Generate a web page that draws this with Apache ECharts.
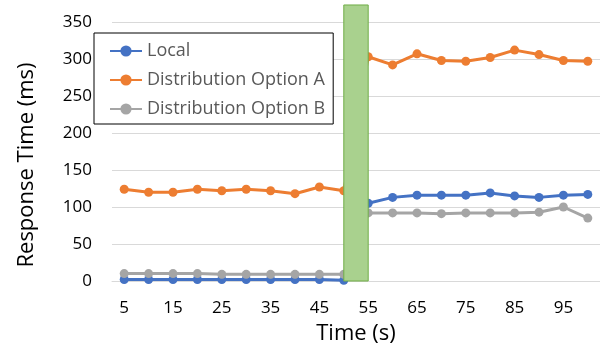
<!DOCTYPE html>
<html>
<head>
<meta charset="utf-8">
<script src="https://cdn.jsdelivr.net/npm/echarts@6/dist/echarts.min.js"></script>
<style>html,body{margin:0;padding:0;background:#fff}#c{width:600px;height:350px}</style>
</head>
<body>
<div id="c"></div>
<script>
const categories = ['5','10','15','20','25','30','35','40','45','50','55','60','65','70','75','80','85','90','95','100'];
const localValues = [2,2,2,2,2,2,2,2,2,1,105,113,116,116,116,119,115,113,116,117];
const optionAValues = [124,120,120,124,122,124,122,118,127,122,303,292,307,298,297,302,312,306,298,297];
const optionBValues = [10,10,10,10,9,9,9,9,9,9,92,92,92,91,92,92,92,93,100,85];
const yTicks = [0,50,100,150,200,250,300,350];
const markerStart = '50';
const markerEnd = '55';
const markerTop = 373;

const FONT = 'Open Sans';
const chart = echarts.init(document.getElementById('c'));
const mk = (name, data, color) => ({
  name, type: 'line', data,
  symbol: 'circle', symbolSize: 9,
  lineStyle: {width: 3, color},
  itemStyle: {color},
  z: 2
});
chart.setOption({
  animation: false,
  textStyle: {fontFamily: FONT},
  grid: {left: 112, right: 0, top: 22, bottom: 69, containLabel: false},
  legend: {
    left: 94, top: 33, orient: 'vertical',
    borderColor: '#000', borderWidth: 1, borderRadius: 0,
    backgroundColor: '#fff',
    padding: [9, 8, 6, 15],
    itemWidth: 32, itemHeight: 14, itemGap: 11,
    textStyle: {fontSize: 18, color: '#595959', fontFamily: FONT},
    data: ['Local', 'Distribution Option A', 'Distribution Option B']
  },
  xAxis: {
    type: 'category', data: categories, boundaryGap: true,
    axisLine: {lineStyle: {color: '#d9d9d9'}},
    axisTick: {show: false},
    axisLabel: {interval: 1, color: '#000', fontSize: 17, margin: 19, fontFamily: FONT},
    name: 'Time (s)', nameLocation: 'middle', nameGap: 42,
    nameTextStyle: {fontSize: 22, color: '#000', fontFamily: FONT}
  },
  yAxis: {
    type: 'value', min: yTicks[0], max: yTicks[yTicks.length-1], interval: yTicks[1]-yTicks[0],
    axisLine: {show: false}, axisTick: {show: false},
    splitLine: {lineStyle: {color: '#d9d9d9'}},
    axisLabel: {color: '#000', fontSize: 17, margin: 20, fontFamily: FONT},
    name: 'Response Time (ms)', nameLocation: 'middle', nameGap: 74,
    nameTextStyle: {fontSize: 22, color: '#000', fontFamily: FONT, padding: [0, 27, 0, 0]}
  },
  series: [
    mk('Local', localValues, '#4472c4'),
    mk('Distribution Option A', optionAValues, '#ed7d31'),
    mk('Distribution Option B', optionBValues, '#a5a5a5'),
    {
      type: 'custom', z: 5, silent: true,
      data: [[categories.indexOf(markerStart), categories.indexOf(markerEnd), markerTop]],
      encode: {x: [0, 1], y: 2},
      renderItem: (params, api) => {
        const p1 = api.coord([api.value(0), api.value(2)]);
        const p2 = api.coord([api.value(1), 0]);
        return {
          type: 'rect',
          shape: {x: p1[0], y: p1[1], width: p2[0]-p1[0], height: p2[1]-p1[1]},
          style: {fill: '#a9d18e', stroke: '#70ad47', lineWidth: 1}
        };
      }
    }
  ]
});
</script>
</body>
</html>
